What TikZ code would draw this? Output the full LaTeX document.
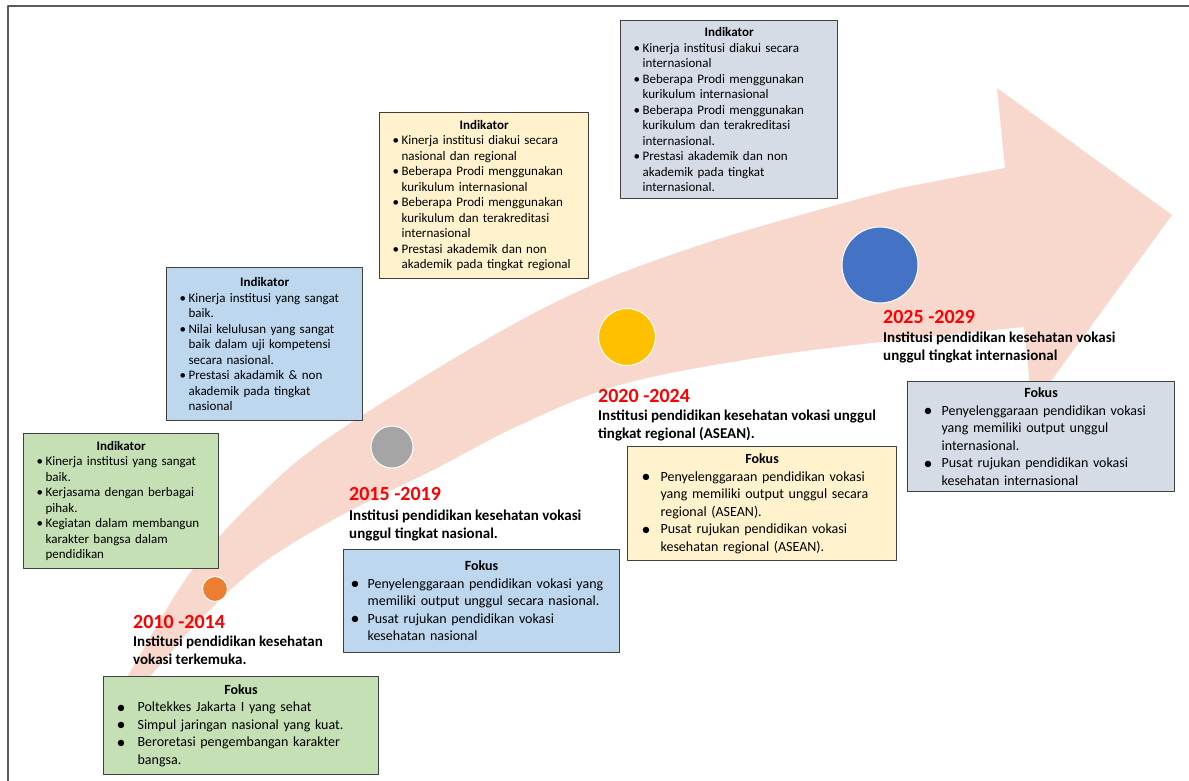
\documentclass[tikz,border=0pt]{standalone}
\usepackage{fontspec}
\setmainfont{Carlito}
\usetikzlibrary{calc}
\definecolor{bandpink}{RGB}{248,215,205}
\definecolor{boxgreen}{RGB}{197,224,180}
\definecolor{boxblue}{RGB}{189,215,238}
\definecolor{boxyellow}{RGB}{255,242,204}
\definecolor{boxgray}{RGB}{214,220,229}
\definecolor{boxline}{RGB}{64,64,64}
\definecolor{framegray}{RGB}{90,90,90}
\definecolor{yearred}{RGB}{255,0,0}
\definecolor{dotorange}{RGB}{237,125,49}
\definecolor{dotgray}{RGB}{165,165,165}
\definecolor{dotyellow}{RGB}{255,192,0}
\definecolor{dotblue}{RGB}{68,114,196}
% box title and bullet lines
\newcommand{\boxtitle}[1]{{\centering\textbf{#1}\par}}
\newcommand{\ibul}[1]{\noindent\hangindent=9pt\hangafter=1\makebox[9pt][l]{\textbullet}#1\par}
\newcommand{\fbul}[2][19pt]{\noindent\hangindent=#1\hangafter=1\makebox[#1][l]{\fontsize{18}{0}\selectfont\raisebox{-1.5pt}{\textbullet}}#2\par}
\tikzset{
  box/.style={draw=boxline, line width=1.2pt, anchor=north west, align=left, inner ysep=3pt},
  indbox/.style={box, inner xsep=13pt, font=\fontsize{13}{15.5}\selectfont},
  fokbox/.style={box, font=\fontsize{14}{17.5}\selectfont},
  yearlbl/.style={anchor=base west, inner sep=0pt, text=yearred, font=\bfseries\fontsize{20}{22}\selectfont},
  desclbl/.style={anchor=base west, inner sep=0pt, align=left, font=\bfseries\fontsize{15}{18}\selectfont},
  milestone/.style={circle, draw=white, line width=1pt, inner sep=0pt}
}
\begin{document}
\begin{tikzpicture}[line cap=round,line join=round,x=1pt,y=-1pt]
\useasboundingbox (0,0) rectangle (1189,781);
\fill[white] (0,0) rectangle (1189,781);
% curved arrow
\fill[bandpink] plot[smooth, tension=0.6] coordinates {(140,688) (153,673) (200,620) (260,565) (340,516) (433,470) (520,425) (620,385) (750,359) (880,342) (1024,327)}
  -- (1032,407) -- (1172,215) -- (997,88) -- (1005,168)
  -- plot[smooth, tension=0.6] coordinates {(900,188) (700,245) (540,310) (340,430) (255,500) (190,573) (133,667) (122,688)} -- cycle;
% milestones
\node[milestone, fill=dotorange, minimum size=25pt] (m1) at (215,589) {};
\node[milestone, fill=dotgray, minimum size=42pt] (m2) at (392,447) {};
\node[milestone, fill=dotyellow, minimum size=57pt] (m3) at (627,337) {};
\node[milestone, fill=dotblue, minimum size=76pt] (m4) at (880,265) {};
% 2010 - 2014
\node[indbox, fill=boxgreen, minimum width=195pt, minimum height=135pt, text width=169pt] (ind1) at (23,433) {\boxtitle{Indikator}
  \ibul{Kinerja institusi yang sangat\newline baik.}
  \ibul{Kerjasama dengan berbagai\newline pihak.}
  \ibul{Kegiatan dalam membangun\newline karakter bangsa dalam\newline pendidikan}};
\node[yearlbl] (yr1) at (133,628) {2010 -2014};
\node[desclbl] (ds1) at (133,664) {Institusi pendidikan kesehatan\\vokasi terkemuka.};
\node[fokbox, inner xsep=13pt, fill=boxgreen, minimum width=275pt, minimum height=98pt, text width=249pt] (fok1) at (103,676) {\boxtitle{Fokus}
  \fbul[21pt]{Poltekkes Jakarta I yang sehat}
  \fbul[21pt]{Simpul jaringan nasional yang kuat.}
  \fbul[21pt]{Beroretasi pengembangan karakter\newline bangsa.}};
% 2015 - 2019
\node[indbox, fill=boxblue, minimum width=196pt, minimum height=153pt, text width=170pt] (ind2) at (166,267) {\boxtitle{Indikator}
  \ibul{Kinerja institusi yang sangat\newline baik.}
  \ibul{Nilai kelulusan yang sangat\newline baik dalam uji kompetensi\newline secara nasional.}
  \ibul{Prestasi akadamik \& non\newline akademik pada tingkat\newline nasional}};
\node[yearlbl] (yr2) at (349,500) {2015 -2019};
\node[desclbl] (ds2) at (349,538) {Institusi pendidikan kesehatan vokasi\\unggul tingkat nasional.};
\node[fokbox, inner xsep=7pt, fill=boxblue, minimum width=276pt, minimum height=103pt, text width=262pt] (fok2) at (343,549) {\boxtitle{Fokus}
  \fbul[17pt]{Penyelenggaraan pendidikan vokasi yang\newline memiliki output unggul secara nasional.}
  \fbul[17pt]{Pusat rujukan pendidikan vokasi\newline kesehatan nasional}};
% 2020 - 2024
\node[indbox, fill=boxyellow, minimum width=209pt, minimum height=166pt, text width=183pt] (ind3) at (379,112) {\boxtitle{Indikator}
  \ibul{Kinerja institusi diakui secara\newline nasional dan regional}
  \ibul{Beberapa Prodi menggunakan\newline kurikulum internasional}
  \ibul{Beberapa Prodi menggunakan\newline kurikulum dan terakreditasi\newline internasional}
  \ibul{Prestasi akademik dan non\newline akademik pada tingkat regional}};
\node[yearlbl] (yr3) at (598,402) {2020 -2024};
\node[desclbl] (ds3) at (598,438) {Institusi pendidikan kesehatan vokasi unggul\\tingkat regional (ASEAN).};
\node[fokbox, inner xsep=14pt, fill=boxyellow, minimum width=269pt, minimum height=114pt, text width=241pt] (fok3) at (627,446) {\boxtitle{Fokus}
  \fbul{Penyelenggaraan pendidikan vokasi\newline yang memiliki output unggul secara\newline regional (ASEAN).}
  \fbul{Pusat rujukan pendidikan vokasi\newline kesehatan regional (ASEAN).}};
% 2025 - 2029
\node[indbox, fill=boxgray, minimum width=217pt, minimum height=178pt, text width=191pt] (ind4) at (620,20) {\boxtitle{Indikator}
  \ibul{Kinerja institusi diakui secara\newline internasional}
  \ibul{Beberapa Prodi menggunakan\newline kurikulum internasional}
  \ibul{Beberapa Prodi menggunakan\newline kurikulum dan terakreditasi\newline internasional.}
  \ibul{Prestasi akademik dan non\newline akademik pada tingkat\newline internasional.}};
\node[yearlbl] (yr4) at (883,323) {2025 -2029};
\node[desclbl] (ds4) at (883,360) {Institusi pendidikan kesehatan vokasi\\unggul tingkat internasional};
\node[fokbox, inner xsep=16pt, fill=boxgray, minimum width=267pt, minimum height=110pt, text width=235pt] (fok4) at (907,381) {\boxtitle{Fokus}
  \fbul[18pt]{Penyelenggaraan pendidikan vokasi\newline yang memiliki output unggul\newline internasional.}
  \fbul[18pt]{Pusat rujukan pendidikan vokasi\newline kesehatan internasional}};
% frame
\draw[framegray, line width=2pt, line cap=butt] (8,781) -- (8,6) -- (1189,6);
\end{tikzpicture}
\end{document}
